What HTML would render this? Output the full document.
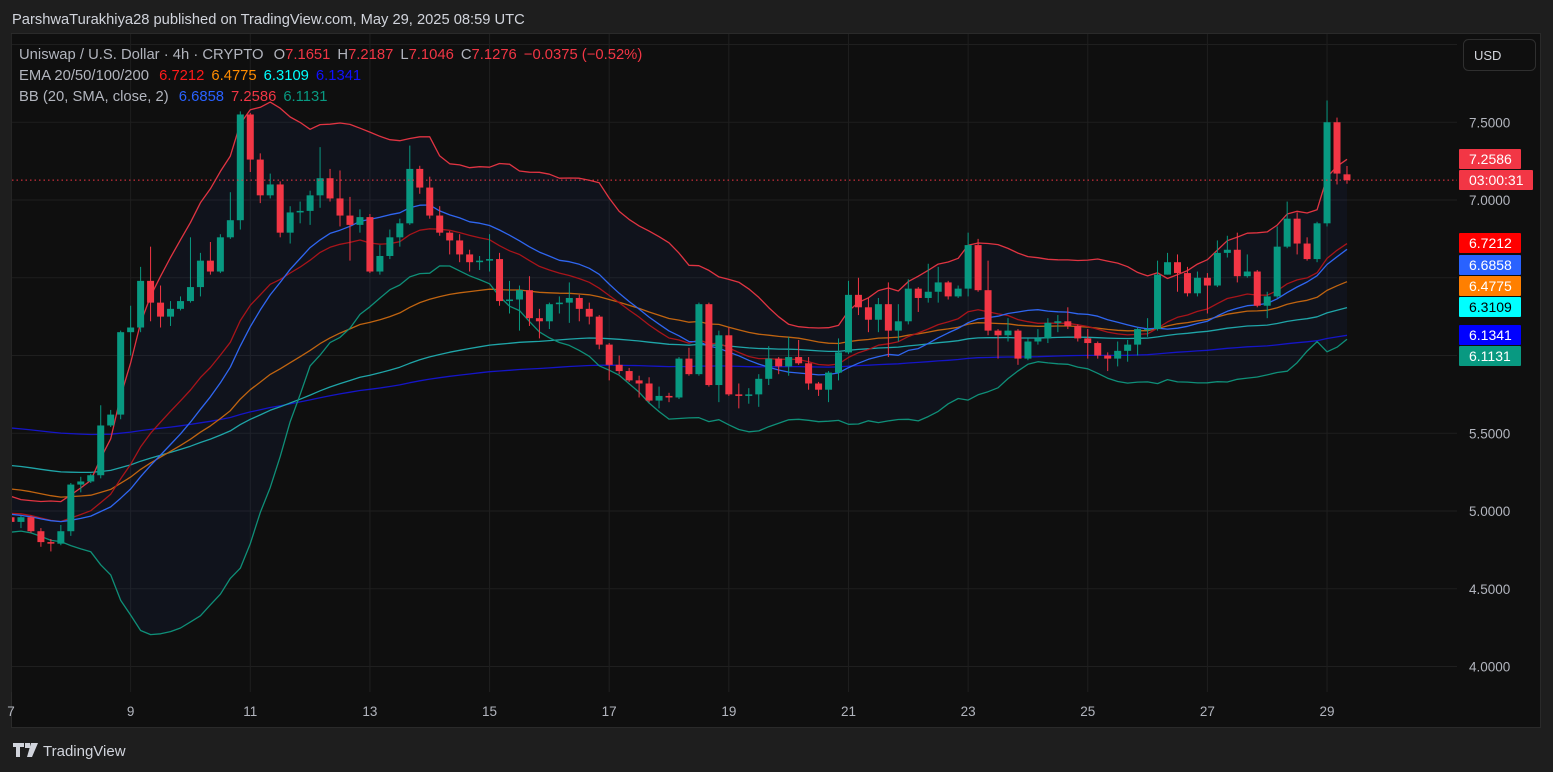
<!DOCTYPE html>
<html><head><meta charset="utf-8">
<style>
html,body{margin:0;padding:0;background:#1e1e1e;}
svg{display:block;font-family:"Liberation Sans",sans-serif;}
</style></head>
<body>
<svg id="chart" width="1553" height="772" viewBox="0 0 1553 772">
  <defs><clipPath id="pane"><rect x="12" y="34" width="1440" height="693"/></clipPath></defs>
  <rect x="0" y="0" width="1553" height="772" fill="#1e1e1e"/>
  <text x="12" y="24" fill="#d1d4dc" font-size="14.7">ParshwaTurakhiya28 published on TradingView.com, May 29, 2025 08:59 UTC</text>
  <rect x="11.5" y="33.5" width="1529" height="694" fill="#0f0f0f" stroke="#2a2a2a"/>
  <g id="grid"></g>
  <g id="bbfill" clip-path="url(#pane)"></g>
  <g id="lines" clip-path="url(#pane)"></g>
  <g id="candles" clip-path="url(#pane)"></g>
  <g id="axes"></g>
  <g font-size="14.8">
    <text x="19" y="59" fill="#b2b5be">Uniswap / U.S. Dollar · 4h · CRYPTO <tspan dx="6">O</tspan><tspan fill="#f23645">7.1651</tspan><tspan dx="7">H</tspan><tspan fill="#f23645">7.2187</tspan><tspan dx="7">L</tspan><tspan fill="#f23645">7.1046</tspan><tspan dx="7">C</tspan><tspan fill="#f23645">7.1276</tspan><tspan dx="7" fill="#f23645">−0.0375 (−0.52%)</tspan></text>
    <text x="19" y="80" fill="#b2b5be">EMA 20/50/100/200 <tspan dx="6" fill="#ff1a1a">6.7212</tspan><tspan dx="7" fill="#ff8c00">6.4775</tspan><tspan dx="7" fill="#00ffff">6.3109</tspan><tspan dx="7" fill="#1010ff">6.1341</tspan></text>
    <text x="19" y="101" fill="#b2b5be">BB (20, SMA, close, 2) <tspan dx="6" fill="#2962ff">6.6858</tspan><tspan dx="7" fill="#f23645">7.2586</tspan><tspan dx="7" fill="#089981">6.1131</tspan></text>
  </g>
  <g>
    <rect x="1463.5" y="39.5" width="72" height="31" rx="5" fill="#0f0f0f" stroke="#2f2f2f"/>
    <text x="1474" y="60" fill="#d1d4dc" font-size="13">USD</text>
  </g>
  <g id="tags"></g>
  <rect x="0" y="728" width="1553" height="44" fill="#1e1e1e"/>
  <g>
    <path d="M13 743h11v4h-4v10h-4v-10h-3z M25 743h5v5h-5z M31 743h7l-6 14h-5z" fill="#d1d4dc"/>
    <text x="43" y="756" fill="#d1d4dc" font-size="15">TradingView</text>
  </g>
</svg>
<script>
const opens = [4.96,4.93,4.96,4.87,4.80,4.79,4.87,5.17,5.19,5.23,
5.55,5.62,6.15,6.18,6.48,6.34,6.25,6.30,6.35,6.44,
6.61,6.54,6.76,6.87,7.55,7.26,7.03,7.10,6.79,6.92,
6.93,7.03,7.14,7.01,6.90,6.84,6.89,6.54,6.64,6.76,
6.85,7.20,7.08,6.90,6.79,6.74,6.65,6.60,6.61,6.62,
6.35,6.36,6.42,6.24,6.22,6.33,6.34,6.37,6.30,6.25,
6.07,5.94,5.90,5.84,5.82,5.71,5.74,5.73,5.98,5.88,
6.33,5.81,6.13,5.75,5.74,5.75,5.85,5.98,5.93,5.99,
5.95,5.82,5.78,5.89,6.02,6.39,6.31,6.23,6.33,6.16,
6.22,6.43,6.37,6.41,6.47,6.38,6.43,6.71,6.42,6.16,
6.13,6.16,5.98,6.09,6.11,6.21,6.22,6.19,6.11,6.08,
6.00,5.98,6.03,6.07,6.17,6.17,6.52,6.60,6.53,6.40,
6.50,6.45,6.66,6.68,6.51,6.54,6.32,6.38,6.70,6.88,
6.72,6.62,6.85,7.50,7.1651];
const highs = [4.98,4.97,4.97,4.89,4.82,4.91,5.18,5.22,5.24,5.68,
5.65,6.16,6.32,6.57,6.70,6.45,6.35,6.38,6.76,6.66,
6.73,6.78,7.05,7.57,7.56,7.30,7.17,7.12,6.96,6.99,
7.06,7.34,7.20,7.19,7.02,6.94,6.91,6.71,6.81,6.88,
7.35,7.22,7.15,6.96,6.80,6.78,6.68,6.64,6.78,6.66,
6.48,6.45,6.51,6.30,6.34,6.38,6.47,6.39,6.34,6.26,
6.08,6.00,5.92,5.87,5.86,5.80,5.76,5.99,6.05,6.34,
6.34,6.16,6.18,5.82,5.79,5.88,6.06,5.99,6.12,6.10,
5.99,5.83,5.90,6.11,6.48,6.50,6.37,6.37,6.47,6.33,
6.49,6.44,6.59,6.57,6.48,6.45,6.79,6.75,6.61,6.17,
6.24,6.17,6.11,6.17,6.24,6.26,6.31,6.20,6.17,6.09,
6.02,6.09,6.10,6.18,6.24,6.61,6.66,6.65,6.57,6.54,
6.53,6.74,6.77,6.79,6.65,6.55,6.41,6.83,6.99,6.92,
6.76,6.86,7.64,7.53,7.2187];
const lows = [4.92,4.89,4.86,4.77,4.74,4.78,4.84,5.12,5.18,5.21,
5.54,5.59,6.00,6.15,6.22,6.18,6.19,6.29,6.34,6.38,
6.52,6.53,6.75,6.81,7.18,6.98,7.01,6.76,6.72,6.85,
6.84,6.95,6.99,6.83,6.61,6.79,6.53,6.52,6.62,6.70,
6.84,7.04,6.88,6.77,6.65,6.60,6.54,6.55,6.54,6.32,
6.27,6.16,6.19,6.11,6.17,6.27,6.21,6.22,6.20,6.04,
5.84,5.88,5.83,5.73,5.70,5.66,5.70,5.72,5.87,5.87,
5.80,5.70,5.74,5.66,5.69,5.67,5.81,5.88,5.87,5.94,
5.78,5.74,5.70,5.84,6.01,6.26,6.15,6.15,5.99,6.09,
6.20,6.28,6.34,6.34,6.36,6.37,6.38,6.41,6.13,5.98,
6.09,5.94,5.97,6.07,6.08,6.15,6.17,6.09,5.98,5.98,
5.90,5.93,5.96,6.00,6.12,6.16,6.52,6.41,6.38,6.38,
6.27,6.44,6.63,6.47,6.50,6.31,6.24,6.37,6.69,6.65,
6.61,6.60,6.83,7.10,7.1046];
const closes = [4.93,4.96,4.87,4.80,4.79,4.87,5.17,5.19,5.23,5.55,
5.62,6.15,6.18,6.48,6.34,6.25,6.30,6.35,6.44,6.61,
6.54,6.76,6.87,7.55,7.26,7.03,7.10,6.79,6.92,6.93,
7.03,7.14,7.01,6.90,6.84,6.89,6.54,6.64,6.76,6.85,
7.20,7.08,6.90,6.79,6.74,6.65,6.60,6.61,6.62,6.35,
6.36,6.42,6.24,6.22,6.33,6.34,6.37,6.30,6.25,6.07,
5.94,5.90,5.84,5.82,5.71,5.74,5.73,5.98,5.88,6.33,
5.81,6.13,5.75,5.74,5.75,5.85,5.98,5.93,5.99,5.95,
5.82,5.78,5.89,6.02,6.39,6.31,6.23,6.33,6.16,6.22,
6.43,6.37,6.41,6.47,6.38,6.43,6.71,6.42,6.16,6.13,
6.16,5.98,6.09,6.11,6.21,6.22,6.19,6.11,6.08,6.00,
5.98,6.03,6.07,6.17,6.17,6.52,6.60,6.53,6.40,6.50,
6.45,6.66,6.68,6.51,6.54,6.32,6.38,6.70,6.88,6.72,
6.62,6.85,7.50,7.17,7.1276];
const priorCloses = [5.10,5.05,5.08,5.02,4.98,5.00,4.95,4.93,4.97,5.02,5.04,4.99,4.90,4.88,4.92,4.95,4.98,4.93,4.96];
const emaPeriods = [20,50,100,200];
const emaSeeds = [4.99,5.15,5.30,5.54];
const dayTicks = [7,9,11,13,15,17,19,21,23,25,27,29];
const priceTicks = [7.5,7.0,5.5,5.0,4.5,4.0];
const gridPrices = [8.0,7.5,7.0,6.5,6.0,5.5,5.0,4.5,4.0];
const tagLabels = ["6.7212","6.6858","6.4775","6.3109","6.1341","6.1131"];

const NS = "http://www.w3.org/2000/svg";
const X0 = 11, STEP = 9.97;
function xOf(i){ return X0 + i*STEP; }
function yOf(p){ return 200 + (7 - p)*155.5; }
function mk(tag, attrs, parent){ const e=document.createElementNS(NS,tag); for(const k in attrs) e.setAttribute(k,attrs[k]); parent.appendChild(e); return e; }

const grid = document.getElementById('grid');
gridPrices.forEach(p=>{
  const l = mk('line',{x1:12,x2:1457,y1:yOf(p),y2:yOf(p),stroke:'#1f1f1f','stroke-width':1},grid);
  
  
});
dayTicks.forEach(d=>{
  const x = xOf((d-7)*6);
  const l = mk('line',{x1:x,x2:x,y1:34,y2:692,stroke:'#1f1f1f','stroke-width':1},grid);
  
  
});

const allCloses = priorCloses.concat(closes);
const N = closes.length, P = priorCloses.length;
const bbMid=[], bbUp=[], bbLo=[];
for(let i=0;i<N;i++){
  const w = allCloses.slice(P+i-19, P+i+1);
  const m = w.reduce((a,b)=>a+b,0)/w.length;
  const sd = Math.sqrt(w.reduce((a,b)=>a+(b-m)*(b-m),0)/w.length);
  bbMid.push(m); bbUp.push(m+2*sd); bbLo.push(m-2*sd);
}
const emas = emaPeriods.map((n,k)=>{
  const a = 2/(n+1); let v = emaSeeds[k]; const out=[];
  closes.forEach(c=>{ v = v + a*(c-v); out.push(v); });
  return out;
});
function pts(arr){ return arr.map((v,i)=>xOf(i).toFixed(1)+','+yOf(v).toFixed(1)).join(' '); }

const fillG = document.getElementById('bbfill');
const poly = mk('polygon',{points: pts(bbUp)+' '+bbLo.map((v,i)=>[xOf(i),yOf(v)]).reverse().map(p=>p[0].toFixed(1)+','+p[1].toFixed(1)).join(' '), fill:'rgba(41,98,255,0.055)'},fillG);



const linesG = document.getElementById('lines');
const series = [
  [emas[3],'#1515c8','ema-200-line'],
  [emas[2],'#1fa5a8','ema-100-line'],
  [emas[1],'#c06410','ema-50-line'],
  [bbLo,'#0f8f78','bb-lower-line'],
  [bbUp,'#e03442','bb-upper-line'],
  [emas[0],'#a8141a','ema-20-line'],
  [bbMid,'#2f66f0','bb-basis-line']
];
series.forEach(s=>{
  const pl = mk('polyline',{points:pts(s[0]),fill:'none',stroke:s[1],'stroke-width':1.3,'stroke-linejoin':'round'},linesG);
  
  
});

const cg = document.getElementById('candles');
for(let i=0;i<N;i++){
  const up = closes[i] >= opens[i];
  const col = up ? '#089981' : '#f23645';
  const x = xOf(i);
  const g = mk('g',{},cg);
  
  
  mk('line',{x1:x,x2:x,y1:yOf(highs[i]),y2:yOf(lows[i]),stroke:col,'stroke-width':1},g);
  const top = yOf(Math.max(opens[i],closes[i])), bot = yOf(Math.min(opens[i],closes[i]));
  mk('rect',{x:x-3.5,y:top,width:7,height:Math.max(1.2,bot-top),fill:col},g);
}
const lastY = yOf(closes[N-1]);
const cp = mk('line',{x1:12,x2:1457,y1:lastY,y2:lastY,stroke:'#f23645','stroke-width':1,'stroke-dasharray':'1.5,3'},document.getElementById('axes'));



const ax = document.getElementById('axes');
priceTicks.forEach(p=>{
  const t = mk('text',{x:1469,y:yOf(p)+5,fill:'#b2b5be','font-size':13.5},ax);
  t.textContent = p.toFixed(4);
  
  
});
dayTicks.forEach(d=>{
  const t = mk('text',{x:xOf((d-7)*6),y:716,fill:'#b2b5be','font-size':13.5,'text-anchor':'middle'},ax);
  t.textContent = String(d);
  
  
});

const tg = document.getElementById('tags');
function tag(y,w,bg,fg,txt,name){
  const g = mk('g',{},tg);
  
  
  mk('rect',{x:1459,y:y,width:w,height:20,fill:bg,rx:1},g);
  const t = mk('text',{x:1469,y:y+15,fill:fg,'font-size':14},g);
  t.textContent = txt;
}
tag(149,62,'#f23645','#ffffff','7.2586','bb-upper-tag');
tag(170,74,'#f23645','#ffffff','03:00:31','countdown-tag');
const tagColors = ['#ff0000','#2962ff','#ff7f00','#00ffff','#0000ff','#089981'];
const tagText = ['#ffffff','#ffffff','#ffffff','#000000','#ffffff','#ffffff'];
const tagY = [233,255,276,297,325,346];
const tagNames = ['ema-20-tag','bb-basis-tag','ema-50-tag','ema-100-tag','ema-200-tag','bb-lower-tag'];
tagLabels.forEach((s,k)=>tag(tagY[k],62,tagColors[k],tagText[k],s,tagNames[k]));
</script>
</body></html>
